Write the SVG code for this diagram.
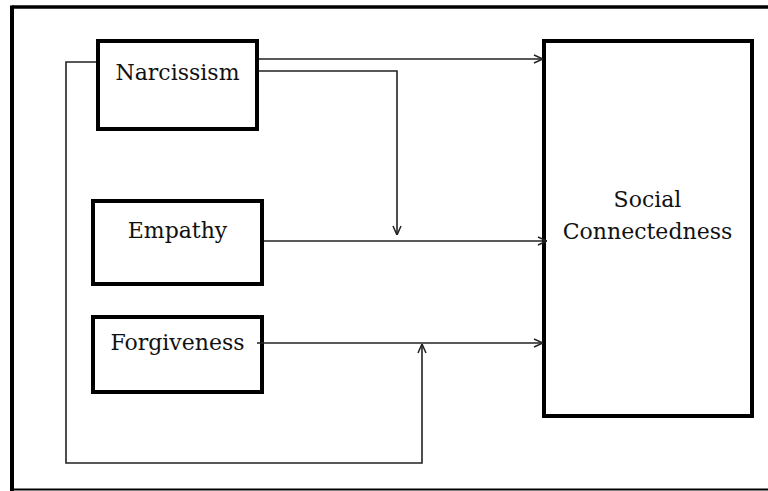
<svg xmlns="http://www.w3.org/2000/svg" width="768" height="491" viewBox="0 0 768 491">
<defs>
<marker id="arr" viewBox="0 0 10 10" refX="10" refY="5" markerWidth="10" markerHeight="10" markerUnits="userSpaceOnUse" orient="auto">
<path d="M1,1 L10,5 L1,9" fill="none" stroke="#222" stroke-width="1.5"/>
</marker>
<style>
.box{fill:#fff;stroke:#000;stroke-width:4}
.lbl{font-family:"DejaVu Serif","Liberation Serif",serif;font-size:22px;fill:#111;text-anchor:middle}
.con{fill:none;stroke:#222;stroke-width:1.6;marker-end:url(#arr)}
.frame{fill:none;stroke:#000}
</style>
</defs>
<rect width="768" height="491" fill="#fff"/>
<g id="frame">
<line class="frame" x1="12" y1="7" x2="768" y2="7" stroke-width="3.5"/>
<line class="frame" x1="12" y1="5.5" x2="12" y2="491" stroke-width="4"/>
<line class="frame" x1="12" y1="489.5" x2="768" y2="489.5" stroke-width="2"/>
</g>
<g id="narcissism">
<rect class="box" x="98" y="41" width="159" height="88"/>
<text class="lbl" x="177.5" y="80">Narcissism</text>
</g>
<g id="empathy">
<rect class="box" x="93" y="201" width="169" height="83"/>
<text class="lbl" x="177.5" y="238">Empathy</text>
</g>
<g id="forgiveness">
<rect class="box" x="93" y="317" width="169" height="75"/>
<text class="lbl" x="177.5" y="350">Forgiveness</text>
</g>
<g id="social">
<rect class="box" x="544" y="41" width="208" height="375"/>
<text class="lbl" x="647.5" y="207">Social</text>
<text class="lbl" x="647.5" y="239">Connectedness</text>
</g>
<g id="connectors">
<path class="con" d="M259,59 H543"/>
<path class="con" d="M259,71 H397 V235"/>
<path class="con" d="M264,241 H547"/>
<path class="con" d="M257,343 H543"/>
<path class="con" d="M96,62 H66 V463 H422 V344"/>
</g>
</svg>
